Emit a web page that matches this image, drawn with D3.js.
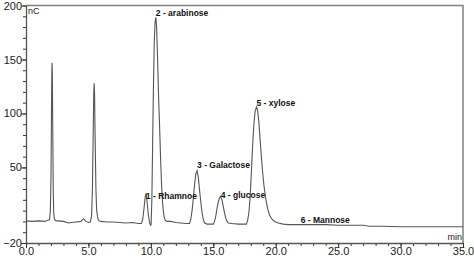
<!DOCTYPE html>
<html>
<head>
<meta charset="utf-8">
<script src="https://cdn.jsdelivr.net/npm/d3@7"></script>
<style>
  body { margin: 0; background: #fff; }
  text { font-family: "Liberation Sans", Arial, sans-serif; }
</style>
</head>
<body>
<div id="chart"></div>
<script>
// chromatogram trace (time in min, signal in nC)
var times = [
  0.0, 0.5, 1.0, 1.5, 1.75, 1.88, 1.95, 2.0, 2.04, 2.07, 2.09, 2.11, 2.14, 2.18, 2.22, 2.28, 2.4,
  2.6, 3.0, 3.4, 3.6, 4.0, 4.4, 4.6, 4.8, 5.0,
  5.15, 5.25, 5.32, 5.38, 5.43, 5.46, 5.49, 5.54, 5.6, 5.66, 5.75, 5.85,
  6.0, 6.5, 7.0, 7.5, 8.0, 8.5, 9.0,
  9.25, 9.35, 9.45, 9.55, 9.62, 9.7, 9.8, 9.9, 9.97,
  10.02, 10.08, 10.14, 10.2, 10.27, 10.34, 10.4, 10.46, 10.54, 10.62, 10.7, 10.78, 10.86, 10.95, 11.05, 11.15,
  11.3, 11.6, 12.0, 12.4, 12.8,
  13.1, 13.2, 13.3, 13.4, 13.5, 13.6, 13.7, 13.8, 13.9, 14.0, 14.1, 14.2, 14.3, 14.5, 14.8,
  15.0, 15.1, 15.2, 15.3, 15.4, 15.5, 15.57, 15.7, 15.8, 15.9, 16.0, 16.1, 16.2, 16.5, 17.0, 17.5,
  17.65, 17.75, 17.85, 17.95, 18.05, 18.15, 18.25, 18.35, 18.46, 18.55, 18.65, 18.75, 18.85, 18.95,
  19.05, 19.2, 19.35, 19.5, 19.7, 19.9,
  20.2, 20.6, 21.0, 22.0, 23.0, 24.0, 25.0, 26.0, 27.0, 27.5, 28.5, 30.0, 32.0, 35.0
];
var signal = [
  0.5, 0, 0.5, 0, 1, 1.5, 10, 40, 100, 140, 147, 135, 90, 30, 8, 2, 0.5,
  0.5, 0, -1.5, -1, -0.5, 0, 2.5, 0, -1,
  -0.5, 5, 30, 80, 120, 128, 118, 75, 30, 10, 3, 0.5,
  0, -0.5, -0.5, -1, -1.5, -1, -2,
  -2, 2, 12, 23, 26, 18, 6, -1, -3.5,
  -3, 20, 70, 120, 165, 185, 189, 180, 150, 115, 88, 58, 33, 15, 5, 1,
  0, 0, -1, -1.5, -2,
  -2, 2, 10, 21, 34, 44, 47, 41, 29, 18, 8, 2, -1.5, -2.5, -2.5,
  -2.5, 0, 5, 12, 18, 22, 23, 20, 14, 8, 3, 0, -1.5, -2, -2.5, -2.5,
  -2.5, 1, 8, 22, 45, 70, 90, 102, 106, 103, 92, 76, 60, 46,
  34, 21, 12, 6, 2, 0,
  -1.5, -2.5, -3, -3, -3, -3, -3.5, -3.5, -3.5, -4.5, -4.5, -5, -5, -5
];

// peak annotations
var peakNames = ["1 - Rhamnoe", "2 - arabinose", "3 - Galactose", "4 - glucose", "5 - xylose", "6 - Mannose"];
var peakTimes = [9.6, 10.4, 13.7, 15.6, 18.46, 22.0];
var peakHeights = [20, 189, 49, 21, 106, -2];

// axis ticks
var xTicks = [0, 5, 10, 15, 20, 25, 30, 35];
var yTicks = [200, 150, 100, 50, -20];

var margin = { top: 5.5, right: 11, bottom: 15, left: 26 },
    width = 474 - margin.left - margin.right,
    height = 258 - margin.top - margin.bottom;

var svg = d3.select("#chart")
    .append("svg")
    .attr("width", 474)
    .attr("height", 258)
    .append("g")
    .attr("transform", "translate(" + margin.left + "," + margin.top + ")");

var x = d3.scaleLinear().domain([0, 35]).range([0, width]);
var y = d3.scaleLinear().domain([-20, 200]).range([height, 0]);

// frame (top and right)
svg.append("path")
    .attr("d", "M0,0H" + width + "V" + height)
    .attr("fill", "none")
    .attr("stroke", "#808080")
    .attr("stroke-width", 1.5);

// minor ticks
svg.append("g")
    .attr("transform", "translate(0," + height + ")")
    .call(d3.axisBottom(x).tickValues(d3.range(0, 36, 1)).tickSize(3).tickFormat(""))
    .call(function (g) { g.select(".domain").remove(); });
svg.append("g")
    .call(d3.axisLeft(y).tickValues(d3.range(-20, 201, 10)).tickSize(3).tickFormat(""))
    .call(function (g) { g.select(".domain").remove(); });

// X axis
svg.append("g")
    .attr("class", "axis")
    .attr("transform", "translate(0," + height + ")")
    .call(d3.axisBottom(x).tickValues(xTicks).tickSize(5).tickSizeOuter(0).tickFormat(d3.format(".1f")));

// Y axis
svg.append("g")
    .attr("class", "axis")
    .call(d3.axisLeft(y).tickValues(yTicks).tickSize(5).tickSizeOuter(0));

svg.selectAll(".tick line").attr("stroke", "#333");
svg.selectAll(".axis .domain").attr("stroke", "#555").attr("stroke-width", 1.3);
svg.selectAll(".axis text")
    .attr("fill", "#222")
    .style("font-size", "11px");
svg.selectAll(".axis text").filter(function () { return this.parentNode.parentNode.getAttribute("transform"); })
    .attr("dy", "0.85em").attr("y", 3);
svg.selectAll(".axis text").filter(function () { return !this.parentNode.parentNode.getAttribute("transform"); })
    .attr("x", -4);

// unit labels
svg.append("text")
    .attr("x", 2)
    .attr("y", 8)
    .style("font-size", "9px")
    .attr("fill", "#222")
    .text("nC");
svg.append("text")
    .attr("x", width - 1)
    .attr("y", height - 3)
    .attr("text-anchor", "end")
    .style("font-size", "9px")
    .attr("fill", "#222")
    .text("min");

// the trace
var pts = times.map(function (t, i) { return [t, signal[i]]; });
svg.append("path")
    .datum(pts)
    .attr("fill", "none")
    .attr("stroke", "#555")
    .attr("stroke-width", 1.1)
    .attr("d", d3.line()
        .x(function (d) { return x(d[0]) })
        .y(function (d) { return y(d[1]) })
    );

// peak labels
svg.append("g")
    .selectAll("text")
    .data(peakNames)
    .enter()
    .append("text")
    .attr("x", function (d, i) { return x(peakTimes[i]); })
    .attr("y", function (d, i) { return y(peakHeights[i]) - 1; })
    .style("font-size", "8.5px")
    .style("font-weight", "bold")
    .attr("fill", "#111")
    .text(function (d) { return d; });
</script>
</body>
</html>
